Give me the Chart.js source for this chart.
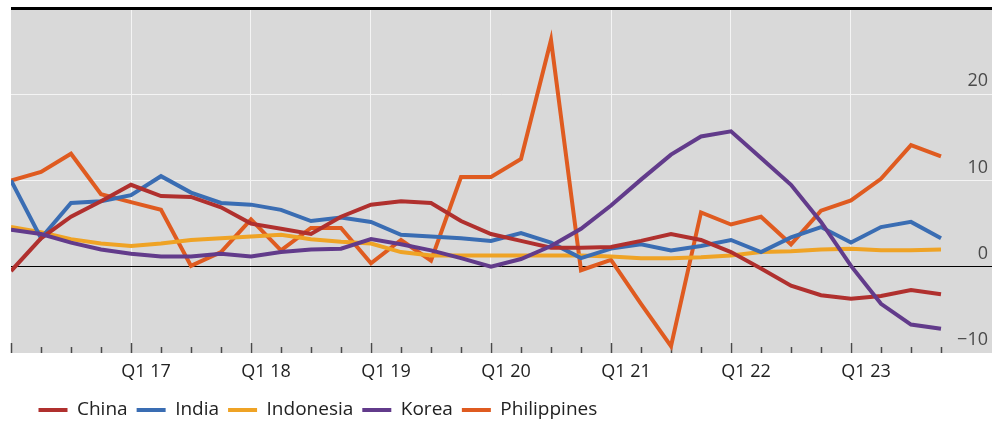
<!DOCTYPE html>
<html><head><meta charset="utf-8">
<script src="https://cdn.jsdelivr.net/npm/chart.js@4/dist/chart.umd.min.js"></script>
<style>html,body{margin:0;padding:0;background:#fff;}canvas{display:block;}</style>
</head><body>
<canvas id="c" width="997" height="426"></canvas>
<script>
const quarters = ['Q1 16','Q2 16','Q3 16','Q4 16','Q1 17','Q2 17','Q3 17','Q4 17',
  'Q1 18','Q2 18','Q3 18','Q4 18','Q1 19','Q2 19','Q3 19','Q4 19',
  'Q1 20','Q2 20','Q3 20','Q4 20','Q1 21','Q2 21','Q3 21','Q4 21',
  'Q1 22','Q2 22','Q3 22','Q4 22','Q1 23','Q2 23','Q3 23','Q4 23'];
const xTickLabels = ['Q1 17','Q1 18','Q1 19','Q1 20','Q1 21','Q1 22','Q1 23'];
const yTickValues = [-10, 0, 10, 20];

const china = [-0.5, 3.3, 5.8, 7.6, 9.5, 8.2, 8.1, 6.9, 5.0, 4.4, 3.8, 5.8, 7.2, 7.6, 7.4, 5.3,
  3.8, 3.0, 2.2, 2.2, 2.3, 3.0, 3.8, 3.1, 1.7, -0.2, -2.2, -3.3, -3.7, -3.4, -2.7, -3.2];
const india = [10.0, 3.3, 7.4, 7.6, 8.3, 10.5, 8.6, 7.4, 7.2, 6.6, 5.3, 5.7, 5.2, 3.7, 3.5, 3.3,
  3.0, 3.9, 2.8, 1.0, 2.1, 2.6, 1.9, 2.4, 3.1, 1.7, 3.4, 4.6, 2.8, 4.6, 5.2, 3.3];
const indonesia = [4.6, 4.0, 3.2, 2.7, 2.4, 2.7, 3.1, 3.3, 3.5, 3.7, 3.2, 2.9, 2.7, 1.7, 1.3, 1.3,
  1.3, 1.3, 1.3, 1.3, 1.2, 1.0, 1.0, 1.1, 1.3, 1.7, 1.8, 2.0, 2.1, 1.9, 1.9, 2.0];
const korea = [4.3, 3.8, 2.8, 2.0, 1.5, 1.2, 1.2, 1.5, 1.2, 1.7, 2.0, 2.1, 3.2, 2.6, 1.9, 1.0,
  0.0, 0.9, 2.4, 4.4, 7.1, 10.1, 13.0, 15.1, 15.7, 12.6, 9.5, 5.2, 0.1, -4.3, -6.7, -7.2];
const philippines = [10.0, 11.0, 13.1, 8.4, 7.5, 6.6, 0.1, 1.7, 5.5, 1.9, 4.5, 4.5, 0.4, 3.1, 0.7, 10.4,
  10.4, 12.5, 26.3, -0.4, 0.8, -4.3, -9.2, 6.3, 4.9, 5.8, 2.6, 6.5, 7.7, 10.2, 14.1, 12.8];

const seriesNames = ['China','India','Indonesia','Korea','Philippines'];
const seriesColors = ['#b0302e','#3a6db3','#efa325','#623b8b','#df5b20'];
const seriesValues = [china, india, indonesia, korea, philippines];
const drawOrder = [1, 2, 3, 0, 4];

Chart.defaults.font.family = "'Open Sans', 'Noto Sans', sans-serif";

const bgPlugin = {
  id: 'bg',
  beforeDraw(chart) {
    const {ctx, chartArea: a} = chart;
    ctx.save();
    ctx.fillStyle = '#d9d9d9';
    ctx.fillRect(a.left, a.top, a.right - a.left, a.bottom - a.top);
    ctx.restore();
  },
  beforeDatasetsDraw(chart) {
    const {ctx, chartArea: a, scales} = chart;
    const xs = scales.x;
    ctx.save();
    ctx.strokeStyle = '#4a4a4a';
    ctx.lineWidth = 1.5;
    quarters.forEach((q, i) => {
      const px = Math.round(xs.getPixelForValue(i)) + 0.5;
      const len = (i % 4 === 0) ? 10 : 6;
      ctx.beginPath();
      ctx.moveTo(px, a.bottom);
      ctx.lineTo(px, a.bottom - len);
      ctx.stroke();
    });
    ctx.restore();
  },
  afterLayout(chart) {
    const lg = chart.legend;
    if (lg) {
      const h = lg.height;
      lg.left = 29.5;
      lg.top = 391.5;
      lg.bottom = lg.top + h;
    }
  }
};

new Chart(document.getElementById('c'), {
  type: 'line',
  data: {
    datasets: seriesNames.map((name, k) => ({
      label: name,
      data: seriesValues[k].map((v, i) => ({x: i, y: v})),
      borderColor: seriesColors[k],
      backgroundColor: seriesColors[k],
      borderWidth: 4,
      pointRadius: 0,
      pointHoverRadius: 0,
      tension: 0,
      fill: false,
      order: drawOrder[k]
    }))
  },
  options: {
    responsive: false,
    animation: false,
    devicePixelRatio: 1,
    layout: {padding: {left: 11, right: 5, top: 8, bottom: 0}},
    plugins: {
      tooltip: {enabled: false},
      legend: {
        position: 'bottom',
        align: 'start',
        labels: {
          boxWidth: 29,
          boxHeight: 4,
          padding: 9,
          color: '#222',
          font: {size: 19},
          sort: (a, b) => a.datasetIndex - b.datasetIndex,
          generateLabels(chart) {
            const items = Chart.defaults.plugins.legend.labels.generateLabels(chart);
            items.forEach(it => { it.lineWidth = 0; it.strokeStyle = 'rgba(0,0,0,0)'; });
            return items;
          }
        }
      }
    },
    scales: {
      x: {
        type: 'linear',
        min: 0,
        max: 32.7,
        afterFit: (s) => { s.height = 35; s.paddingLeft = 0; s.paddingRight = 0; },
        border: {display: false},
        grid: {
          drawTicks: false,
          color: (c) => {
            const v = c.tick && c.tick.value;
            return (Number.isInteger(v) && v % 4 === 0 && v >= 4 && v <= 28) ? '#f4f4f4' : 'rgba(0,0,0,0)';
          },
          lineWidth: 1
        },
        ticks: {
          stepSize: 1,
          autoSkip: false,
          maxRotation: 0,
          includeBounds: false,
          padding: 8,
          labelOffset: 15,
          color: '#222',
          font: {size: 18},
          callback: (v) => {
            const q = quarters[v];
            return (q && xTickLabels.includes(q)) ? q : '';
          }
        }
      },
      y: {
        position: 'right',
        min: -10,
        max: 30,
        afterFit: (s) => { s.width = 0; s.paddingTop = 0; s.paddingBottom = 0; },
        border: {display: false},
        grid: {
          drawTicks: false,
          color: (c) => {
            const v = c.tick && c.tick.value;
            if (v === 0) return '#000';
            if (v === 30) return '#000';
            if (v === 10 || v === 20) return '#f4f4f4';
            return 'rgba(0,0,0,0)';
          },
          lineWidth: (c) => (c.tick && c.tick.value === 30) ? 3 : 1
        },
        ticks: {
          stepSize: 10,
          mirror: true,
          padding: -4,
          labelOffset: -13,
          color: '#4a4a4a',
          font: {size: 18},
          callback: (v) => yTickValues.includes(v) ? (v < 0 ? '\u2212' + Math.abs(v) : String(v)) : ''
        }
      }
    }
  },
  plugins: [bgPlugin]
});
</script>
</body></html>
